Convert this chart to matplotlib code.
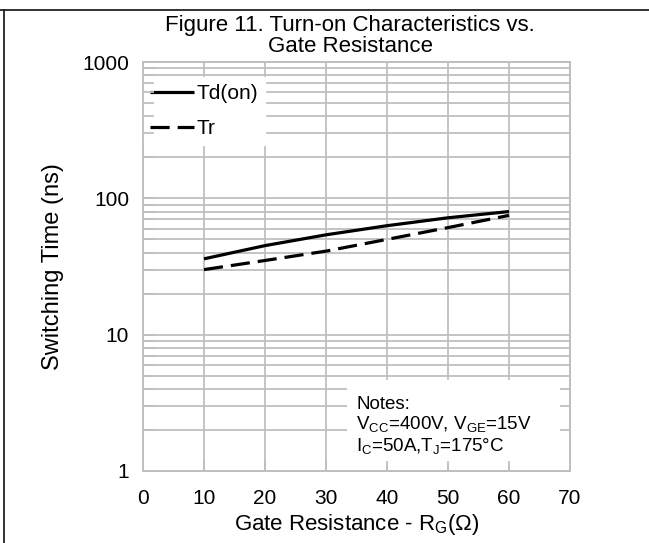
import numpy as np
import matplotlib.pyplot as plt
from matplotlib.lines import Line2D
from matplotlib.patches import Rectangle

plt.rcParams['font.family'] = ['Liberation Sans', 'DejaVu Sans']
plt.rcParams['mathtext.fontset'] = 'custom'
plt.rcParams['mathtext.rm'] = 'Liberation Sans'

fontsize = 15
grid_color = '#BFBFBF'

# data
rg = [10, 20, 30, 40, 50, 60]
td_on = [36, 45, 54, 63, 72, 80]
tr = [30, 35, 41, 50, 61, 75]

fig = plt.figure(figsize=(6.49, 5.43), dpi=100)
pos = [0.2203, 0.1326, 0.8783 - 0.2203, 0.8858 - 0.1326]
ax = fig.add_axes(pos)

ax.set_yscale('log')
ax.set_xlim(0, 70)
ax.set_ylim(1, 1000)
ax.set_xticks(np.arange(0, 71, 10))
ax.set_yticks([1, 10, 100, 1000])
ax.set_yticklabels(['1', '10', '100', '1000'])
ax.grid(True, which='major', color=grid_color, linewidth=1.3)
ax.grid(True, which='minor', axis='y', color=grid_color, linewidth=1.3)
ax.set_axisbelow(True)
ax.tick_params(axis='both', which='both', length=0, labelsize=fontsize)
ax.tick_params(axis='y', pad=10)
ax.tick_params(axis='x', pad=13)
for s in ax.spines.values():
    s.set_color(grid_color)
    s.set_linewidth(1.3)

l1, = ax.plot(rg, td_on, color='black', linewidth=2.3, solid_capstyle='butt',
              label='Td(on)', zorder=3)
l2, = ax.plot(rg, tr, color='black', linewidth=2.3, linestyle=(0, (6, 2.5)),
              label='Tr', zorder=3)

ax.set_ylabel('Switching Time (ns)', fontsize=17, labelpad=13)
ax.set_xlabel('Gate Resistance - R$_\\mathrm{G}$(Ω)', fontsize=16, labelpad=3)

leg = ax.legend(loc='upper left', bbox_to_anchor=(0.0, 0.963), fontsize=fontsize,
                frameon=True, fancybox=False, edgecolor='white', framealpha=1,
                handlelength=2.1, handletextpad=0.1, labelspacing=0.75,
                borderpad=0.35, borderaxespad=0.0)
leg.set_zorder(4)

# notes box
ax.add_patch(Rectangle((0.478, 0.015), 0.499, 0.207, transform=ax.transAxes,
                       facecolor='white', edgecolor='none', zorder=4))
notes = ('Notes:\n'
         'V$_\\mathrm{CC}$=400V, V$_\\mathrm{GE}$=15V\n'
         'I$_\\mathrm{C}$=50A,T$_\\mathrm{J}$=175°C')
ax.text(0.5, 0.183, notes, transform=ax.transAxes, fontsize=13.5,
        va='top', ha='left', linespacing=1.12, zorder=5)

# overlay axes for tick stubs drawn over the white boxes
ax2 = fig.add_axes(pos, sharex=ax, sharey=ax)
ax2.patch.set_visible(False)
ax2.tick_params(axis='both', which='both', direction='in', color=grid_color,
                width=1.3, labelleft=False, labelbottom=False)
ax2.tick_params(axis='y', which='both', length=8)
ax2.tick_params(axis='x', which='both', length=7)
for s in ax2.spines.values():
    s.set_color(grid_color)
    s.set_linewidth(1.3)

fig.text(350 / 649, 1 - 26 / 543, 'Figure 11. Turn-on Characteristics vs.', ha='center',
         va='center', fontsize=16)
fig.text(350 / 649, 1 - 47 / 543, 'Gate Resistance', ha='center', va='center',
         fontsize=16)

# outer frame lines
fig.add_artist(Line2D([0, 1], [1 - 10 / 543] * 2, color='#222222', linewidth=1.3))
fig.add_artist(Line2D([4 / 649] * 2, [0, 1 - 10 / 543], color='#222222', linewidth=1.3))

fig.savefig('out.png', dpi=100)
